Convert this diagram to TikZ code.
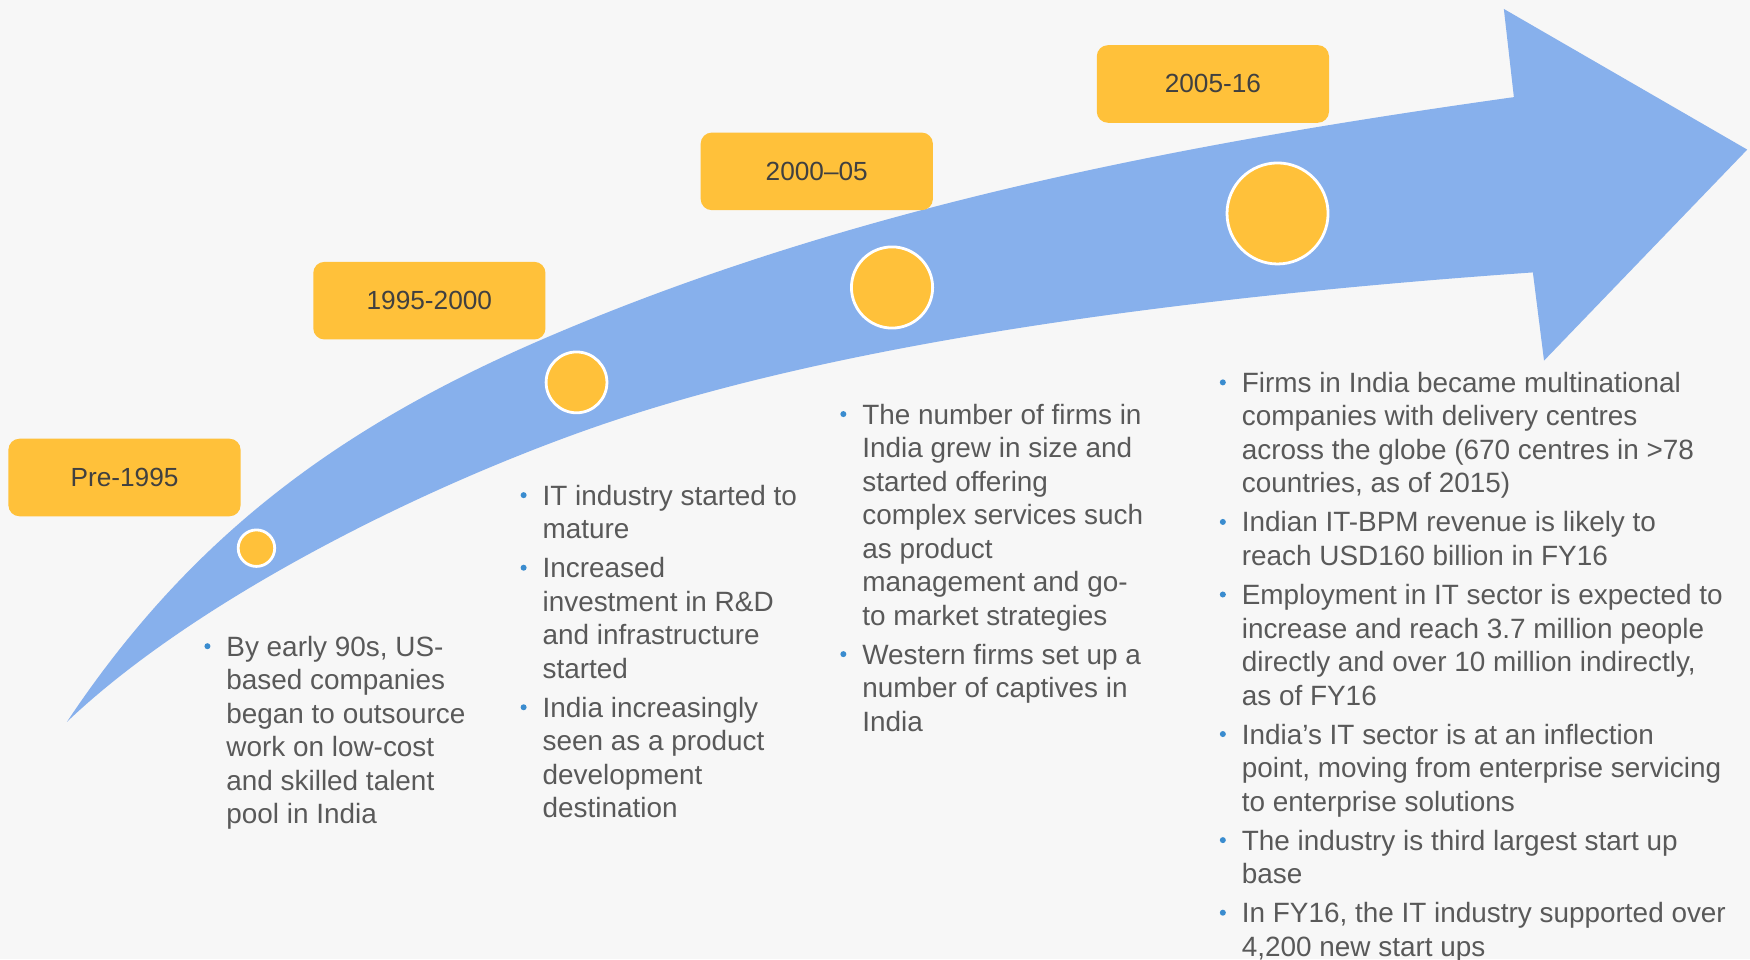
\documentclass[tikz,border=0pt]{standalone}
\usepackage{fontspec}
\setmainfont{Liberation Sans}
\definecolor{bg}{HTML}{F7F7F7}
\definecolor{arrowblue}{HTML}{87B0EC}
\definecolor{gold}{HTML}{FFC13A}
\definecolor{txt}{HTML}{595959}
\definecolor{boxtxt}{HTML}{404040}
\definecolor{bul}{HTML}{3A8CCF}
\newcommand{\blk}[1]{\vtop{\baselineskip=30pt\lineskiplimit=-100pt\lineskip=0pt #1}}
\newcommand{\tl}[1]{\hbox{#1}}
\begin{document}
\begin{tikzpicture}[x=1pt,y=-1pt,
  txtnode/.style={anchor=base west, inner sep=0pt, outer sep=0pt, text=txt, font=\fontsize{25}{30}\selectfont},
  bulnode/.style={circle, fill=bul, inner sep=0pt, minimum size=5.4pt},
  boxnode/.style={rounded corners=10pt, fill=gold, minimum width=208pt, minimum height=69.5pt, inner sep=0pt, text=boxtxt, font=\fontsize{23.5}{28}\selectfont},
  circnode/.style={circle, fill=gold, draw=white, line width=2.5pt, inner sep=0pt}]
\useasboundingbox (0,0) rectangle (1567.5,859);
\fill[bg] (0,0) rectangle (1567.5,859);

% curved arrow
\coordinate (tail) at (60,646.5);
\coordinate (umid) at (488,303);
\coordinate (utop) at (1356,87);
\coordinate (hup) at (1347,8);
\coordinate (htip) at (1565,134);
\coordinate (hlow) at (1383,323);
\coordinate (lbot) at (1373,244);
\coordinate (lmid) at (543,379);
\fill[arrowblue] (tail) .. controls (170.9,480.1) and (304.2,382) .. (umid)
  .. controls (763.7,184.5) and (1059,128.7) .. (utop)
  -- (hup) -- (htip) -- (hlow) -- (lbot)
  .. controls (1093.7,263.6) and (770.3,301.7) .. (lmid)
  .. controls (382,433.7) and (176,536.3) .. (tail) -- cycle;

% period boxes
\node[boxnode] (b1) at (111.5,427.7) {Pre-1995};
\node[boxnode] (b2) at (384.6,269.3) {1995-2000};
\node[boxnode] (b3) at (731.6,153.5) {2000–05};
\node[boxnode] (b4) at (1086.4,75.2) {2005-16};

% milestones
\node[circnode, minimum size=32.7pt] (c1) at (229.7,491) {};
\node[circnode, minimum size=54.5pt] (c2) at (516.4,342.5) {};
\node[circnode, minimum size=72.7pt] (c3) at (799,257.5) {};
\node[circnode, minimum size=90.5pt] (c4) at (1144.3,191.2) {};

% block 1
\node[txtnode] (t1a) at (202.8,587.8) {\blk{\tl{By early 90s, US-}\tl{based companies}\tl{began to outsource}\tl{work on low-cost}\tl{and skilled talent}\tl{pool in India}}};

% block 2
\node[txtnode] (t2a) at (486,452.5) {\blk{\tl{IT industry started to}\tl{mature}}};
\node[txtnode] (t2b) at (486,517.5) {\blk{\tl{Increased}\tl{investment in R\&D}\tl{and infrastructure}\tl{started}}};
\node[txtnode] (t2c) at (486,642.5) {\blk{\tl{India increasingly}\tl{seen as a product}\tl{development}\tl{destination}}};

% block 3
\node[txtnode] (t3a) at (772.4,379.9) {\blk{\tl{The number of firms in}\tl{India grew in size and}\tl{started offering}\tl{complex services such}\tl{as product}\tl{management and go-}\tl{to market strategies}}};
\node[txtnode] (t3b) at (772.4,594.9) {\blk{\tl{Western firms set up a}\tl{number of captives in}\tl{India}}};

% block 4
\node[txtnode] (t4a) at (1112.3,351.5) {\blk{\tl{Firms in India became multinational}\tl{companies with delivery centres}\tl{across the globe (670 centres in >78}\tl{countries, as of 2015)}}};
\node[txtnode] (t4b) at (1112.3,476.5) {\blk{\tl{Indian IT-BPM revenue is likely to}\tl{reach USD160 billion in FY16}}};
\node[txtnode] (t4c) at (1112.3,541.5) {\blk{\tl{Employment in IT sector is expected to}\tl{increase and reach 3.7 million people}\tl{directly and over 10 million indirectly,}\tl{as of FY16}}};
\node[txtnode] (t4d) at (1112.3,666.5) {\blk{\tl{India’s IT sector is at an inflection}\tl{point, moving from enterprise servicing}\tl{to enterprise solutions}}};
\node[txtnode] (t4e) at (1112.3,761.5) {\blk{\tl{The industry is third largest start up}\tl{base}}};
\node[txtnode] (t4f) at (1112.3,826.5) {\blk{\tl{In FY16, the IT industry supported over}\tl{4,200 new start ups}}};

% bullets
\foreach \n in {t1a,t2a,t2b,t2c,t3a,t3b,t4a,t4b,t4c,t4d,t4e,t4f}
  \node[bulnode] (bul-\n) at ([xshift=-17pt,yshift=9pt]\n.base west) {};
\end{tikzpicture}
\end{document}
